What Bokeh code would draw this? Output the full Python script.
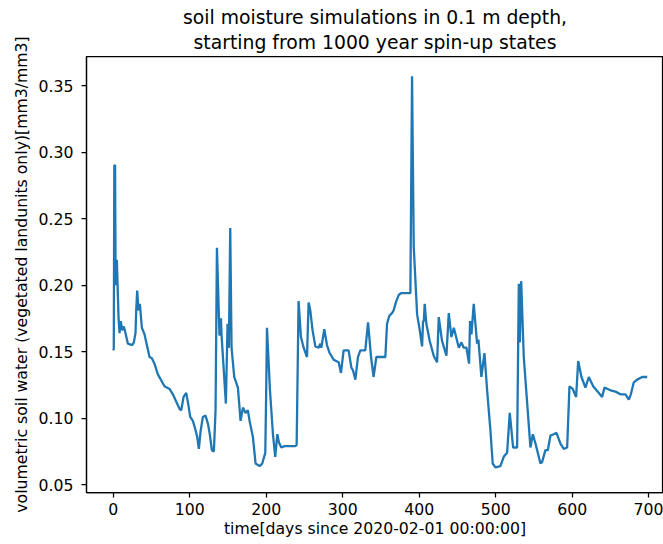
from bokeh.plotting import figure
from bokeh.models import Range1d, Title, FixedTicker, PrintfTickFormatter, ColumnDataSource
from bokeh.embed import file_html
from bokeh.resources import INLINE

days = [0, 0.8, 1.5, 2.5, 3.2, 4.8, 7.0, 8.3, 10.0, 11.8, 14.0, 16.1, 19.2, 24.8, 27.0, 29.2,
        30.1, 31.4, 33.1, 34.9, 37.5, 41, 47.5, 50.6, 54, 58.4, 67.1, 73.7, 78, 86.8, 88.9,
        92, 95.5, 98, 100.7, 104.2, 107.7, 109.8, 112, 114.2, 117.2, 120.7, 123.8, 126, 129,
        131.6, 133.8, 135.6, 138.2, 139, 140.8, 141.7, 147.3, 149.5, 151.2, 153, 154.7, 158.2,
        163, 166.5, 169.6, 173, 176, 178.3, 182.6, 186.1, 191.4, 194.8, 198.8, 200, 201, 204.9,
        208.8, 211.8, 214.5, 216.6, 219.7, 224, 238, 239.8, 242.3, 245.4, 248.9, 253.3, 255.4,
        257.6, 260.6, 264.2, 268.5, 270.7, 272, 273.7, 275.9, 279.4, 282.9, 288.1, 294.7,
        297.7, 301.2, 307.7, 311.3, 313.4, 316.5, 319.9, 323, 329.5, 333.1, 337, 340.3, 343.9,
        355.7, 357.9, 360.9, 364.4, 366.5, 370, 373.1, 376.1, 388.4, 390.6, 392.8, 397.2,
        400.7, 403.7, 405, 406, 407.1, 409.3, 413.7, 418.9, 423.3, 425.5, 429.8, 435.5, 438.6,
        442, 445.2, 451.7, 455.1, 458.1, 461.7, 465.1, 466.4, 468.2, 471.2, 475.6, 477.3,
        481.2, 485.2, 488.7, 493, 496, 499.5, 506, 510.4, 514.8, 518.3, 522.7, 527.9, 530.1,
        531.4, 533.2, 536.6, 545.3, 548.4, 551.9, 558.4, 560.5, 564.9, 568, 571.5, 575.7,
        579.3, 584.5, 588.9, 593.3, 596.3, 600.6, 605, 607.7, 612, 617.2, 621.6, 627.3, 634.7,
        639, 642, 650, 656.5, 663, 669.5, 673.9, 676.5, 680.4, 684.8, 691.4, 697.9]

soil_water = [0.151, 0.152, 0.290, 0.290, 0.200, 0.219, 0.176, 0.164, 0.173, 0.166, 0.169, 0.164,
              0.156, 0.155, 0.157, 0.164, 0.181, 0.196, 0.181, 0.186, 0.168, 0.163, 0.146, 0.145,
              0.141, 0.133, 0.124, 0.122, 0.118, 0.107, 0.106, 0.116, 0.119, 0.111, 0.101, 0.098,
              0.091, 0.086, 0.077, 0.090, 0.101, 0.102, 0.096, 0.089, 0.076, 0.075, 0.106, 0.228,
              0.176, 0.162, 0.175, 0.162, 0.111, 0.171, 0.153, 0.243, 0.153, 0.131, 0.123, 0.098,
              0.108, 0.104, 0.106, 0.098, 0.086, 0.066, 0.064, 0.066, 0.074, 0.121, 0.168, 0.121,
              0.088, 0.071, 0.088, 0.082, 0.078, 0.079, 0.079, 0.080, 0.188, 0.161, 0.153, 0.146,
              0.187, 0.181, 0.166, 0.154, 0.153, 0.156, 0.153, 0.159, 0.167, 0.155, 0.149, 0.144,
              0.142, 0.134, 0.151, 0.151, 0.138, 0.136, 0.129, 0.146, 0.151, 0.151, 0.172, 0.146,
              0.131, 0.146, 0.146, 0.171, 0.177, 0.179, 0.181, 0.188, 0.1925, 0.194, 0.194, 0.357,
              0.229, 0.178, 0.166, 0.154, 0.173, 0.173, 0.186, 0.171, 0.158, 0.147, 0.142, 0.176,
              0.158, 0.147, 0.179, 0.161, 0.168, 0.153, 0.157, 0.153, 0.153, 0.141, 0.173, 0.163,
              0.186, 0.156, 0.159, 0.131, 0.149, 0.121, 0.091, 0.066, 0.063, 0.064, 0.071, 0.074,
              0.104, 0.078, 0.078, 0.201, 0.157, 0.203, 0.146, 0.078, 0.088, 0.081, 0.066, 0.067,
              0.076, 0.076, 0.087, 0.088, 0.089, 0.081, 0.077, 0.078, 0.124, 0.122, 0.116, 0.143,
              0.131, 0.123, 0.131, 0.124, 0.119, 0.116, 0.123, 0.121, 0.120, 0.118, 0.118, 0.114,
              0.118, 0.127, 0.129, 0.131, 0.131]

x_ticks = [0, 100, 200, 300, 400, 500, 600, 700]
y_ticks = [0.05, 0.10, 0.15, 0.20, 0.25, 0.30, 0.35]

title_line1 = "soil moisture simulations in 0.1 m depth,"
title_line2 = "starting from 1000 year spin-up states"
x_label = "time[days since 2020-02-01 00:00:00]"
y_label = "volumetric soil water (vegetated landunits only)[mm3/mm3]"

FONT = "DejaVu Sans"
TICK_FS = "15.7px"
TITLE_FS = "18.8px"

p = figure(width=663, height=544, output_backend="svg", toolbar_location=None,
           x_range=Range1d(-34.85, 719.2), y_range=Range1d(0.0442, 0.3718),
           min_border_left=86, min_border_right=0, min_border_top=56, min_border_bottom=52)
p.title.text = ""
p.title.visible = False

def make_title(text, standoff):
    return Title(text=text, align="center", text_font=FONT, text_font_size=TITLE_FS,
                 text_font_style="normal", text_color="black", standoff=standoff)

p.add_layout(make_title(title_line2, 7), "above")
p.add_layout(make_title(title_line1, -2), "above")

src = ColumnDataSource(dict(x=days, y=soil_water))
p.line("x", "y", source=src, line_color="#1f77b4", line_width=2.3)

p.xgrid.visible = False
p.ygrid.visible = False
p.outline_line_color = "black"
p.outline_line_width = 1.25
p.outline_line_alpha = 1.0

p.xaxis.ticker = FixedTicker(ticks=x_ticks)
p.yaxis.ticker = FixedTicker(ticks=y_ticks)
p.yaxis.formatter = PrintfTickFormatter(format="%.2f")
for ax in (p.xaxis, p.yaxis):
    ax.axis_line_color = "black"
    ax.axis_line_width = 1.25
    ax.major_tick_line_color = "black"
    ax.major_tick_line_width = 1.25
    ax.major_tick_out = 5
    ax.major_tick_in = 0
    ax.minor_tick_out = 0
    ax.minor_tick_in = 0
    ax.major_label_text_font = FONT
    ax.major_label_text_font_size = TICK_FS
    ax.major_label_text_color = "black"
    ax.axis_label_text_font = FONT
    ax.axis_label_text_font_size = TICK_FS
    ax.axis_label_text_font_style = "normal"
    ax.axis_label_text_color = "black"

p.xaxis.axis_label = x_label
p.yaxis.axis_label = y_label
p.xaxis.major_label_standoff = 5
p.yaxis.major_label_standoff = 8
p.xaxis.axis_label_standoff = 1
p.yaxis.axis_label_standoff = 5

open("out.html", "w").write(file_html(p, INLINE))
